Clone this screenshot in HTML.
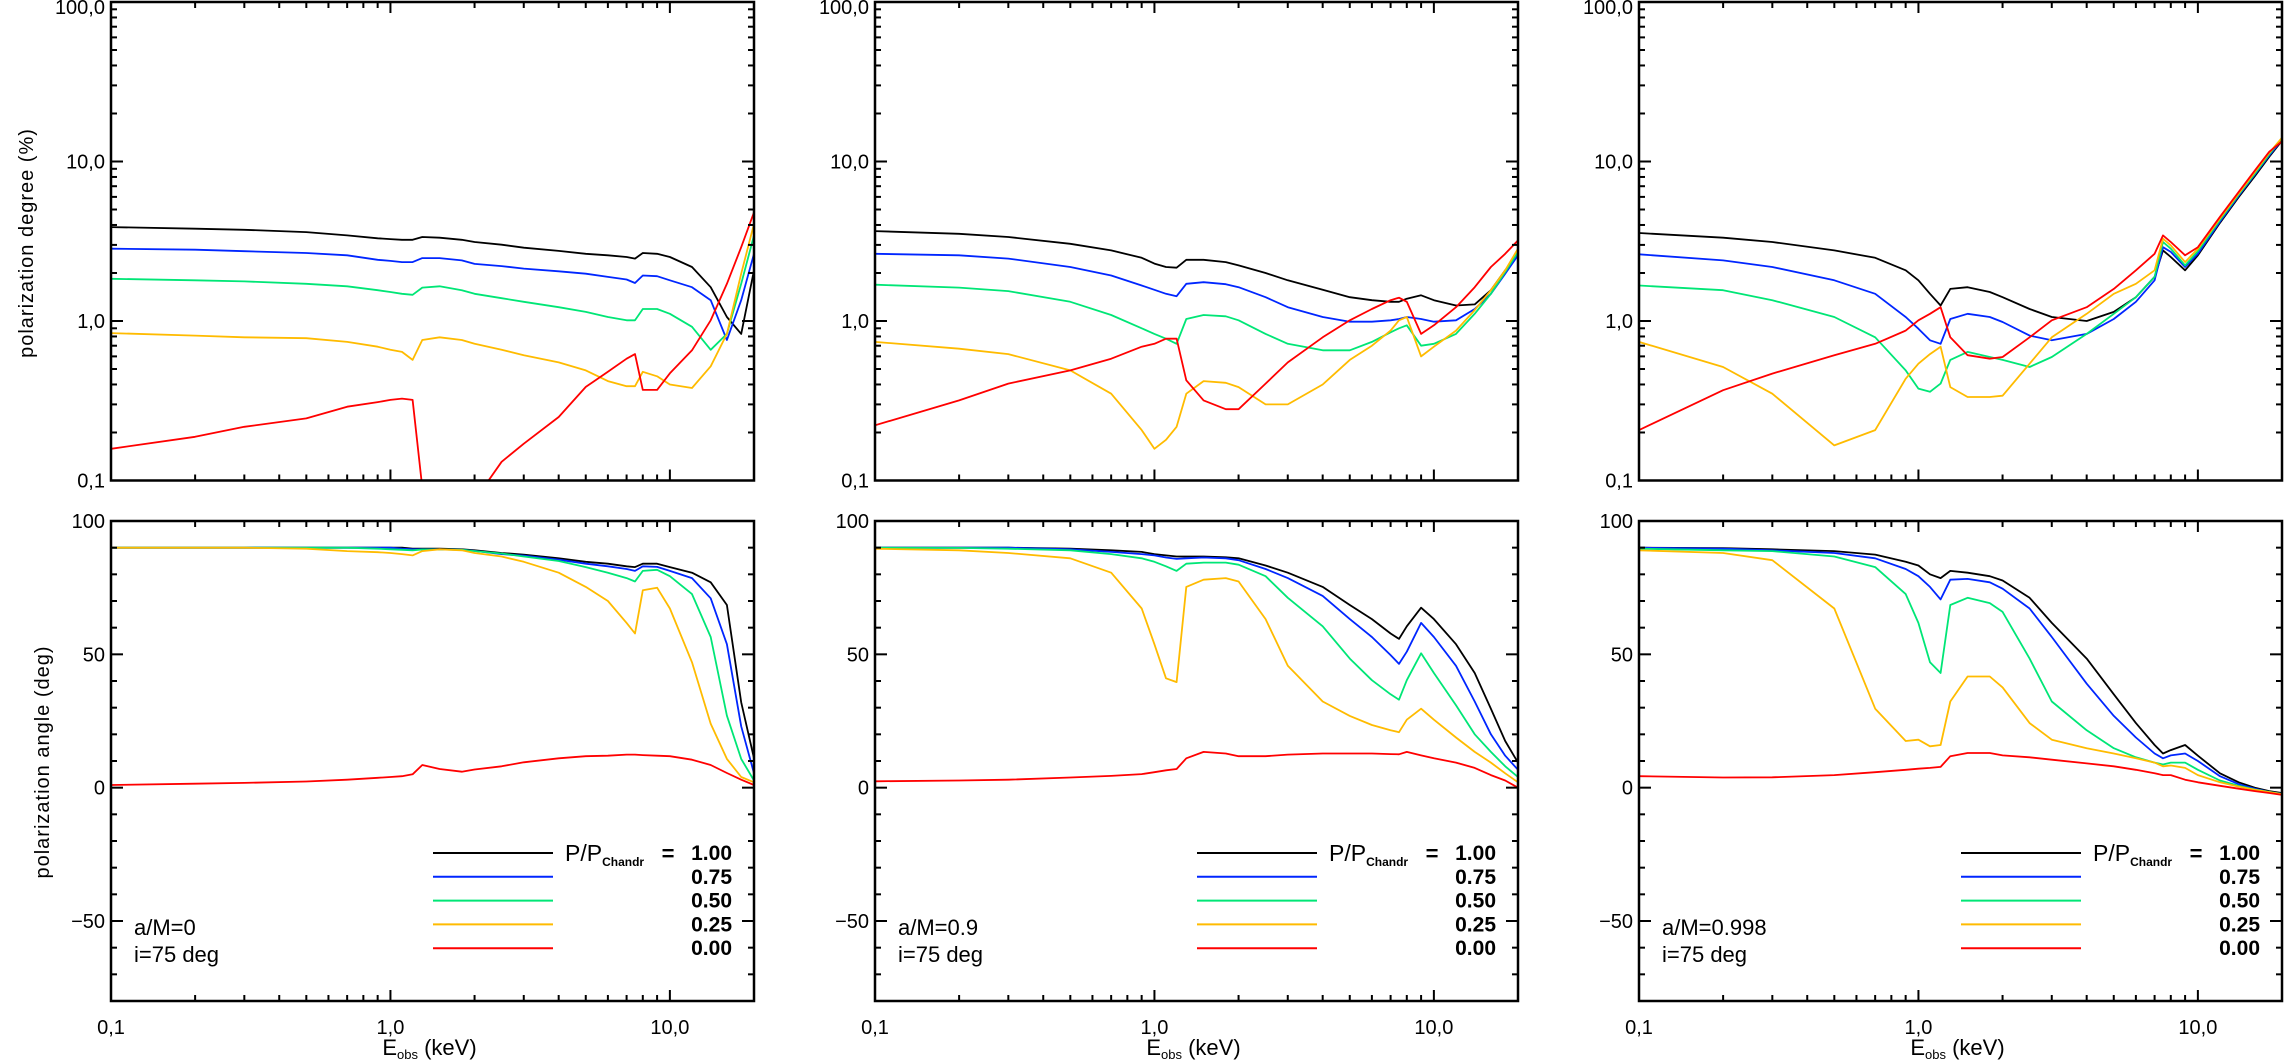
<!DOCTYPE html>
<html><head><meta charset="utf-8">
<style>
html,body{margin:0;padding:0;background:#fff;}
svg{display:block;}
text{font-family:"Liberation Sans",Arial,sans-serif;fill:#000;}
</style></head>
<body>
<svg id="fig" width="2284" height="1063" viewBox="0 0 2284 1063" xmlns="http://www.w3.org/2000/svg"></svg>
<script>
// ---- data ----
const energies = [0.1,0.2,0.3,0.5,0.7,0.9,1.0,1.1,1.2,1.3,1.5,1.8,2,2.5,3,4,5,6,7,7.5,8,9,10,12,14,16,18,20];
const seriesLabels = ["1.00","0.75","0.50","0.25","0.00"];
const seriesColors = ["#000000","#0026ff","#00e676","#ffbb00","#ff0000"];
const spinLabels = ["a/M=0","a/M=0.9","a/M=0.998"];
const degTickLabels = ["0,1","1,0","10,0","100,0"];
const angTickValues = [100,50,0,-50];
const xTickLabels = ["0,1","1,0","10,0"];

// panel 1 (a/M=0) polarization degree (%)
const deg0_black = [3.88,3.79,3.73,3.61,3.44,3.30,3.26,3.23,3.23,3.36,3.33,3.23,3.13,3.01,2.88,2.75,2.64,2.58,2.52,2.46,2.67,2.64,2.52,2.18,1.63,1.06,0.83,2.08];
const deg0_blue  = [2.84,2.80,2.74,2.67,2.58,2.42,2.38,2.34,2.34,2.48,2.48,2.40,2.28,2.21,2.13,2.05,1.98,1.89,1.82,1.73,1.93,1.91,1.80,1.63,1.35,0.76,1.35,2.64];
const deg0_green = [1.84,1.80,1.77,1.71,1.65,1.56,1.52,1.48,1.46,1.62,1.65,1.56,1.48,1.39,1.32,1.22,1.14,1.06,1.01,1.01,1.19,1.19,1.11,0.92,0.66,0.83,1.71,3.44];
const deg0_orange= [0.84,0.81,0.79,0.78,0.74,0.69,0.66,0.64,0.57,0.76,0.79,0.76,0.72,0.66,0.61,0.55,0.49,0.42,0.39,0.39,0.48,0.45,0.40,0.38,0.52,0.83,1.98,4.07];
const deg0_red   = [0.158,0.188,0.217,0.245,0.29,0.31,0.32,0.326,0.32,0.09,0.03,0.05,0.075,0.131,0.17,0.25,0.386,0.48,0.58,0.62,0.37,0.37,0.47,0.655,1.01,1.71,2.9,4.8];
// panel 2 (a/M=0.9)
const deg1_black = [3.66,3.52,3.36,3.05,2.77,2.49,2.29,2.18,2.16,2.42,2.42,2.34,2.23,2.00,1.80,1.57,1.41,1.35,1.32,1.32,1.38,1.45,1.35,1.25,1.27,1.56,2.08,2.64];
const deg1_blue  = [2.64,2.58,2.46,2.18,1.93,1.67,1.57,1.48,1.43,1.71,1.75,1.70,1.63,1.41,1.22,1.06,0.99,0.99,1.01,1.03,1.06,1.03,0.99,1.01,1.19,1.48,1.98,2.58];
const deg1_green = [1.69,1.62,1.54,1.32,1.09,0.90,0.83,0.775,0.72,1.03,1.09,1.07,1.01,0.83,0.72,0.655,0.655,0.74,0.85,0.90,0.94,0.70,0.72,0.83,1.11,1.48,2.03,2.7];
const deg1_orange= [0.74,0.67,0.62,0.49,0.35,0.207,0.158,0.18,0.217,0.35,0.42,0.41,0.385,0.30,0.30,0.40,0.57,0.70,0.87,1.01,1.06,0.60,0.69,0.87,1.17,1.56,2.08,2.84];
const deg1_red   = [0.222,0.318,0.405,0.49,0.58,0.69,0.72,0.775,0.775,0.425,0.318,0.28,0.28,0.405,0.55,0.79,1.01,1.19,1.35,1.40,1.32,0.83,0.94,1.22,1.63,2.18,2.64,3.2];
// panel 3 (a/M=0.998)
const deg2_black = [3.56,3.33,3.13,2.77,2.49,2.08,1.80,1.48,1.25,1.59,1.63,1.52,1.41,1.19,1.06,1.0,1.14,1.41,1.89,2.77,2.52,2.08,2.58,4.13,5.98,8.1,10.7,13.5];
const deg2_blue  = [2.62,2.40,2.18,1.80,1.48,1.06,0.895,0.757,0.72,1.03,1.11,1.06,0.986,0.81,0.757,0.83,1.03,1.32,1.80,2.9,2.71,2.18,2.64,4.2,6.1,8.3,10.9,13.7];
const deg2_green = [1.67,1.56,1.35,1.06,0.79,0.49,0.377,0.36,0.405,0.57,0.64,0.595,0.57,0.515,0.595,0.83,1.11,1.41,1.89,3.13,2.84,2.23,2.74,4.3,6.2,8.4,11.1,13.9];
const deg2_orange= [0.74,0.515,0.35,0.166,0.207,0.435,0.54,0.62,0.69,0.385,0.334,0.334,0.34,0.54,0.79,1.11,1.48,1.71,2.08,3.28,2.98,2.34,2.84,4.4,6.3,8.6,11.3,14.1];
const deg2_red   = [0.207,0.368,0.468,0.61,0.72,0.87,1.01,1.11,1.22,0.79,0.61,0.58,0.595,0.79,1.01,1.22,1.59,2.08,2.64,3.44,3.13,2.58,2.9,4.5,6.45,8.8,11.5,13.4];

// polarization angle (deg)
const ang0_black = [90,90,90,90,90,90,90,90,89.6,89.6,89.6,89.4,89,88,87.4,86,84.7,84,83,82.7,84,84,82.7,80.6,77,68.5,32,11];
const ang0_blue  = [90,90,90,90,90,90,90,89.6,89.4,89.4,89.4,89.2,88.8,87.6,87,85.5,84,83,82,81.3,83,82.8,81.3,78.6,71,53.8,23,5.4];
const ang0_green = [90,90,90,90,90,89.6,89.4,89.2,89,89.3,89.3,89.2,88.7,87.8,86.7,85,82.7,80.6,78.6,77.3,81.3,81.7,79.3,72.6,56.5,27,10.8,2.7];
const ang0_orange= [90,90,90,89.6,88.7,88.3,88,87.6,87.1,88.7,89.4,89,88,86.7,84.7,80.6,75.3,70,61.8,57.8,74,75,67.2,47,24,10.8,4,2];
const ang0_red   = [1,1.5,1.8,2.3,3,3.7,4,4.3,5,8.5,7,6,6.8,8,9.5,11,11.8,12,12.4,12.4,12.2,12,11.8,10.5,8.5,5.5,3,1];
const ang1_black = [90,90,90,89.6,89,88.4,87.6,87.1,86.7,86.7,86.7,86.4,86,83.3,80.6,75.3,68.5,63.2,57.8,55.8,60.5,67.5,63.2,53.8,43,29.6,17.5,9.4];
const ang1_blue  = [90,90,90,89.4,88.4,87.6,87.1,86.3,85.8,86,86.3,86,85.3,82,78.6,71.9,63.2,56.5,49.7,46.4,51,61.8,56.5,45.7,32.3,20,12,6.7];
const ang1_green = [90,89.9,89.6,89,87.6,86,84.7,83,81.3,84,84.4,84.4,83.6,79.3,71.2,60.5,48.4,40.3,35,33,40.3,50.4,43,30.9,20,13.4,8,4];
const ang1_orange= [89.6,89,88,86,80.6,67.2,53.8,41,39.6,75.3,78,78.6,77.3,63.2,45.7,32.3,26.9,23.5,21.5,20.8,25.5,29.6,25.5,18.8,13.4,9.4,5.4,2];
const ang1_red   = [2.4,2.7,3,3.8,4.4,5.1,5.8,6.5,7,11,13.4,12.8,11.8,11.8,12.4,12.8,12.8,12.8,12.6,12.5,13.4,12.1,11,9.4,7.4,4.7,2.7,0];
const ang2_black = [90,89.8,89.4,88.7,87.4,84.7,83.3,80,78.6,81.3,80.6,79.3,77.7,71.2,61.8,48.4,35,24.2,16,12.8,14.1,16,12,5.4,2,0,-1.3,-2];
const ang2_blue  = [90,89.6,89,88,86,82,79.3,75.3,70.6,78,78.3,77,74.6,67.2,56.5,39,26.9,18.8,12.8,11,12.1,12.8,10,4.3,1.3,-0.4,-1.6,-2.3];
const ang2_green = [89.6,89,88.7,86.7,82.7,72.6,61.8,47,43,68.5,71.2,69.2,65.9,48.4,32.3,21.5,14.8,11.4,9.4,8.7,9.4,9.4,6.7,2.7,0.7,-0.7,-1.6,-2.4];
const ang2_orange= [89,88,85.3,67.2,29.6,17.5,18,15.5,16,32.3,41.7,41.7,37.6,24.2,18,14.8,12.8,11,9.4,8,8.3,7.4,4.7,2,0.4,-0.8,-1.7,-2.4];
const ang2_red   = [4.3,3.8,3.9,4.7,5.8,6.7,7.1,7.4,7.8,11.8,13,13,12.1,11.4,10.5,9.1,8,6.7,5.4,4.7,4.7,3,2,0.7,-0.4,-1.3,-2,-2.7];

const degSeries = [
  [deg0_black,deg0_blue,deg0_green,deg0_orange,deg0_red],
  [deg1_black,deg1_blue,deg1_green,deg1_orange,deg1_red],
  [deg2_black,deg2_blue,deg2_green,deg2_orange,deg2_red]];
const angSeries = [
  [ang0_black,ang0_blue,ang0_green,ang0_orange,ang0_red],
  [ang1_black,ang1_blue,ang1_green,ang1_orange,ang1_red],
  [ang2_black,ang2_blue,ang2_green,ang2_orange,ang2_red]];

// ---- layout ----
const NS = "http://www.w3.org/2000/svg";
const svg = document.getElementById("fig");
const panelLeft = [111,875,1639];
const panelW = 643;
const topY0 = 2, topY1 = 480.5;
const botY0 = 521, botY1 = 1001;
const xMin = Math.log10(0.1), xMax = Math.log10(20);

function mk(tag, attrs, parent){
  const e = document.createElementNS(NS, tag);
  for (const k in attrs) e.setAttribute(k, attrs[k]);
  (parent||svg).appendChild(e);
  return e;
}
function xs(p, e){ return panelLeft[p] + (Math.log10(e)-xMin)/(xMax-xMin)*panelW; }
function yDeg(v){ return topY0 + (2-Math.log10(v))/3*(topY1-topY0); }
function yAng(v){ return botY0 + (100-v)/180*(botY1-botY0); }

const defs = mk("defs",{});
for (let p=0;p<3;p++){
  ['t','b'].forEach(k=>{
    const cp = mk("clipPath",{id:"clip"+k+p},defs);
    const y0 = k==='t'?topY0:botY0, y1 = k==='t'?topY1:botY1;
    mk("rect",{x:panelLeft[p],y:y0,width:panelW,height:y1-y0},cp);
  });
}

const xMinor = [0.2,0.3,0.4,0.5,0.6,0.7,0.8,0.9,2,3,4,5,6,7,8,9,20];
const xMajor = [0.1,1,10];

for (let p=0;p<3;p++){
  const L = panelLeft[p], R = L+panelW;
  // ---------- top panel ----------
  const gt = mk("g",{});
  
  
  const gl = mk("g",{"clip-path":"url(#clipt"+p+")"},gt);
  degSeries[p].forEach((arr,si)=>{
    const d = arr.map((v,i)=>(i?"L":"M")+xs(p,energies[i]).toFixed(1)+","+yDeg(v).toFixed(1)).join(" ");
    const path = mk("path",{d:d,fill:"none",stroke:seriesColors[si],"stroke-width":1.8,"stroke-linejoin":"round"},gl);
    
    
  });
  const ft = mk("rect",{x:L,y:topY0,width:panelW,height:topY1-topY0,fill:"none",stroke:"#000","stroke-width":2.5},gt);
  
  
  xMajor.concat(xMinor).forEach(e=>{
    const x = xs(p,e), len = xMajor.includes(e)?11:6;
    mk("line",{x1:x,x2:x,y1:topY1,y2:topY1-len,stroke:"#000","stroke-width":2},gt);
    mk("line",{x1:x,x2:x,y1:topY0,y2:topY0+len,stroke:"#000","stroke-width":2},gt);
  });
  for (let dec=-1; dec<2; dec++){
    for (let m=1;m<=10;m++){
      const v = m*Math.pow(10,dec);
      const y = yDeg(v);
      const len = (m===1||m===10)?12:6;
      mk("line",{x1:L,x2:L+len,y1:y,y2:y,stroke:"#000","stroke-width":2},gt);
      mk("line",{x1:R,x2:R-len,y1:y,y2:y,stroke:"#000","stroke-width":2},gt);
    }
  }
  degTickLabels.forEach((lab,i)=>{
    const y = yDeg(Math.pow(10,i-1));
    const t = mk("text",{x:L-6,y:y+(i===3?12:7),"text-anchor":"end","font-size":20},gt);
    t.textContent = lab;
    
    
  });

  // ---------- bottom panel ----------
  const gb = mk("g",{});
  
  
  const gl2 = mk("g",{"clip-path":"url(#clipb"+p+")"},gb);
  angSeries[p].forEach((arr,si)=>{
    const d = arr.map((v,i)=>(i?"L":"M")+xs(p,energies[i]).toFixed(1)+","+yAng(v).toFixed(1)).join(" ");
    const path = mk("path",{d:d,fill:"none",stroke:seriesColors[si],"stroke-width":1.8,"stroke-linejoin":"round"},gl2);
    
    
  });
  const fb = mk("rect",{x:L,y:botY0,width:panelW,height:botY1-botY0,fill:"none",stroke:"#000","stroke-width":2.5},gb);
  
  
  xMajor.concat(xMinor).forEach(e=>{
    const x = xs(p,e), len = xMajor.includes(e)?11:6;
    mk("line",{x1:x,x2:x,y1:botY1,y2:botY1-len,stroke:"#000","stroke-width":2},gb);
    mk("line",{x1:x,x2:x,y1:botY0,y2:botY0+len,stroke:"#000","stroke-width":2},gb);
  });
  for (let v=-80; v<=100; v+=10){
    const y = yAng(v), len = (v%50===0)?12:6;
    mk("line",{x1:L,x2:L+len,y1:y,y2:y,stroke:"#000","stroke-width":2},gb);
    mk("line",{x1:R,x2:R-len,y1:y,y2:y,stroke:"#000","stroke-width":2},gb);
  }
  angTickValues.forEach(v=>{
    const t = mk("text",{x:L-6,y:yAng(v)+7,"text-anchor":"end","font-size":20},gb);
    t.textContent = v<0 ? "\u2212"+Math.abs(v) : String(v);
    
    
  });
  xTickLabels.forEach((lab,i)=>{
    const t = mk("text",{x:xs(p,Math.pow(10,i-1)),y:1034,"text-anchor":"middle","font-size":20},gb);
    t.textContent = lab;
    
    
  });
  const xt = mk("text",{x:L+panelW/2-3,y:1055,"text-anchor":"middle","font-size":22},gb);
  
  
  xt.innerHTML = 'E<tspan font-size="13" dy="4">obs</tspan><tspan dy="-4"> (keV)</tspan>';
  const a1 = mk("text",{x:L+23,y:935,"font-size":22},gb);
  a1.textContent = spinLabels[p];
  
  
  const a2 = mk("text",{x:L+23,y:962,"font-size":22},gb);
  a2.textContent = "i=75 deg";
  
  
  // legend
  const lg = mk("g",{},gb);
  
  
  seriesLabels.forEach((lab,si)=>{
    const y = 853 + si*23.8;
    const ln = mk("line",{x1:L+322,x2:L+442,y1:y,y2:y,stroke:seriesColors[si],"stroke-width":2},lg);
    
    
    const t = mk("text",{x:L+621,y:y+7,"text-anchor":"end","font-size":21,"font-weight":"bold"},lg);
    t.textContent = lab;
    
    
  });
  const lt = mk("text",{x:L+454,y:861,"font-size":23},lg);
  
  
  lt.innerHTML = 'P/P<tspan font-size="12" font-weight="bold" dy="5">Chandr</tspan>';
  const eq = mk("text",{x:L+557,y:861,"text-anchor":"middle","font-size":22,"font-weight":"bold"},lg);
  eq.textContent = "=";
  
  
}

const yt1 = mk("text",{x:0,y:0,"text-anchor":"middle","font-size":20,"letter-spacing":"1",transform:"translate(33,243) rotate(-90)"});
yt1.textContent = "polarization degree (%)";


const yt2 = mk("text",{x:0,y:0,"text-anchor":"middle","font-size":20,"letter-spacing":"1",transform:"translate(49,762) rotate(-90)"});
yt2.textContent = "polarization angle (deg)";


</script>
</body></html>
